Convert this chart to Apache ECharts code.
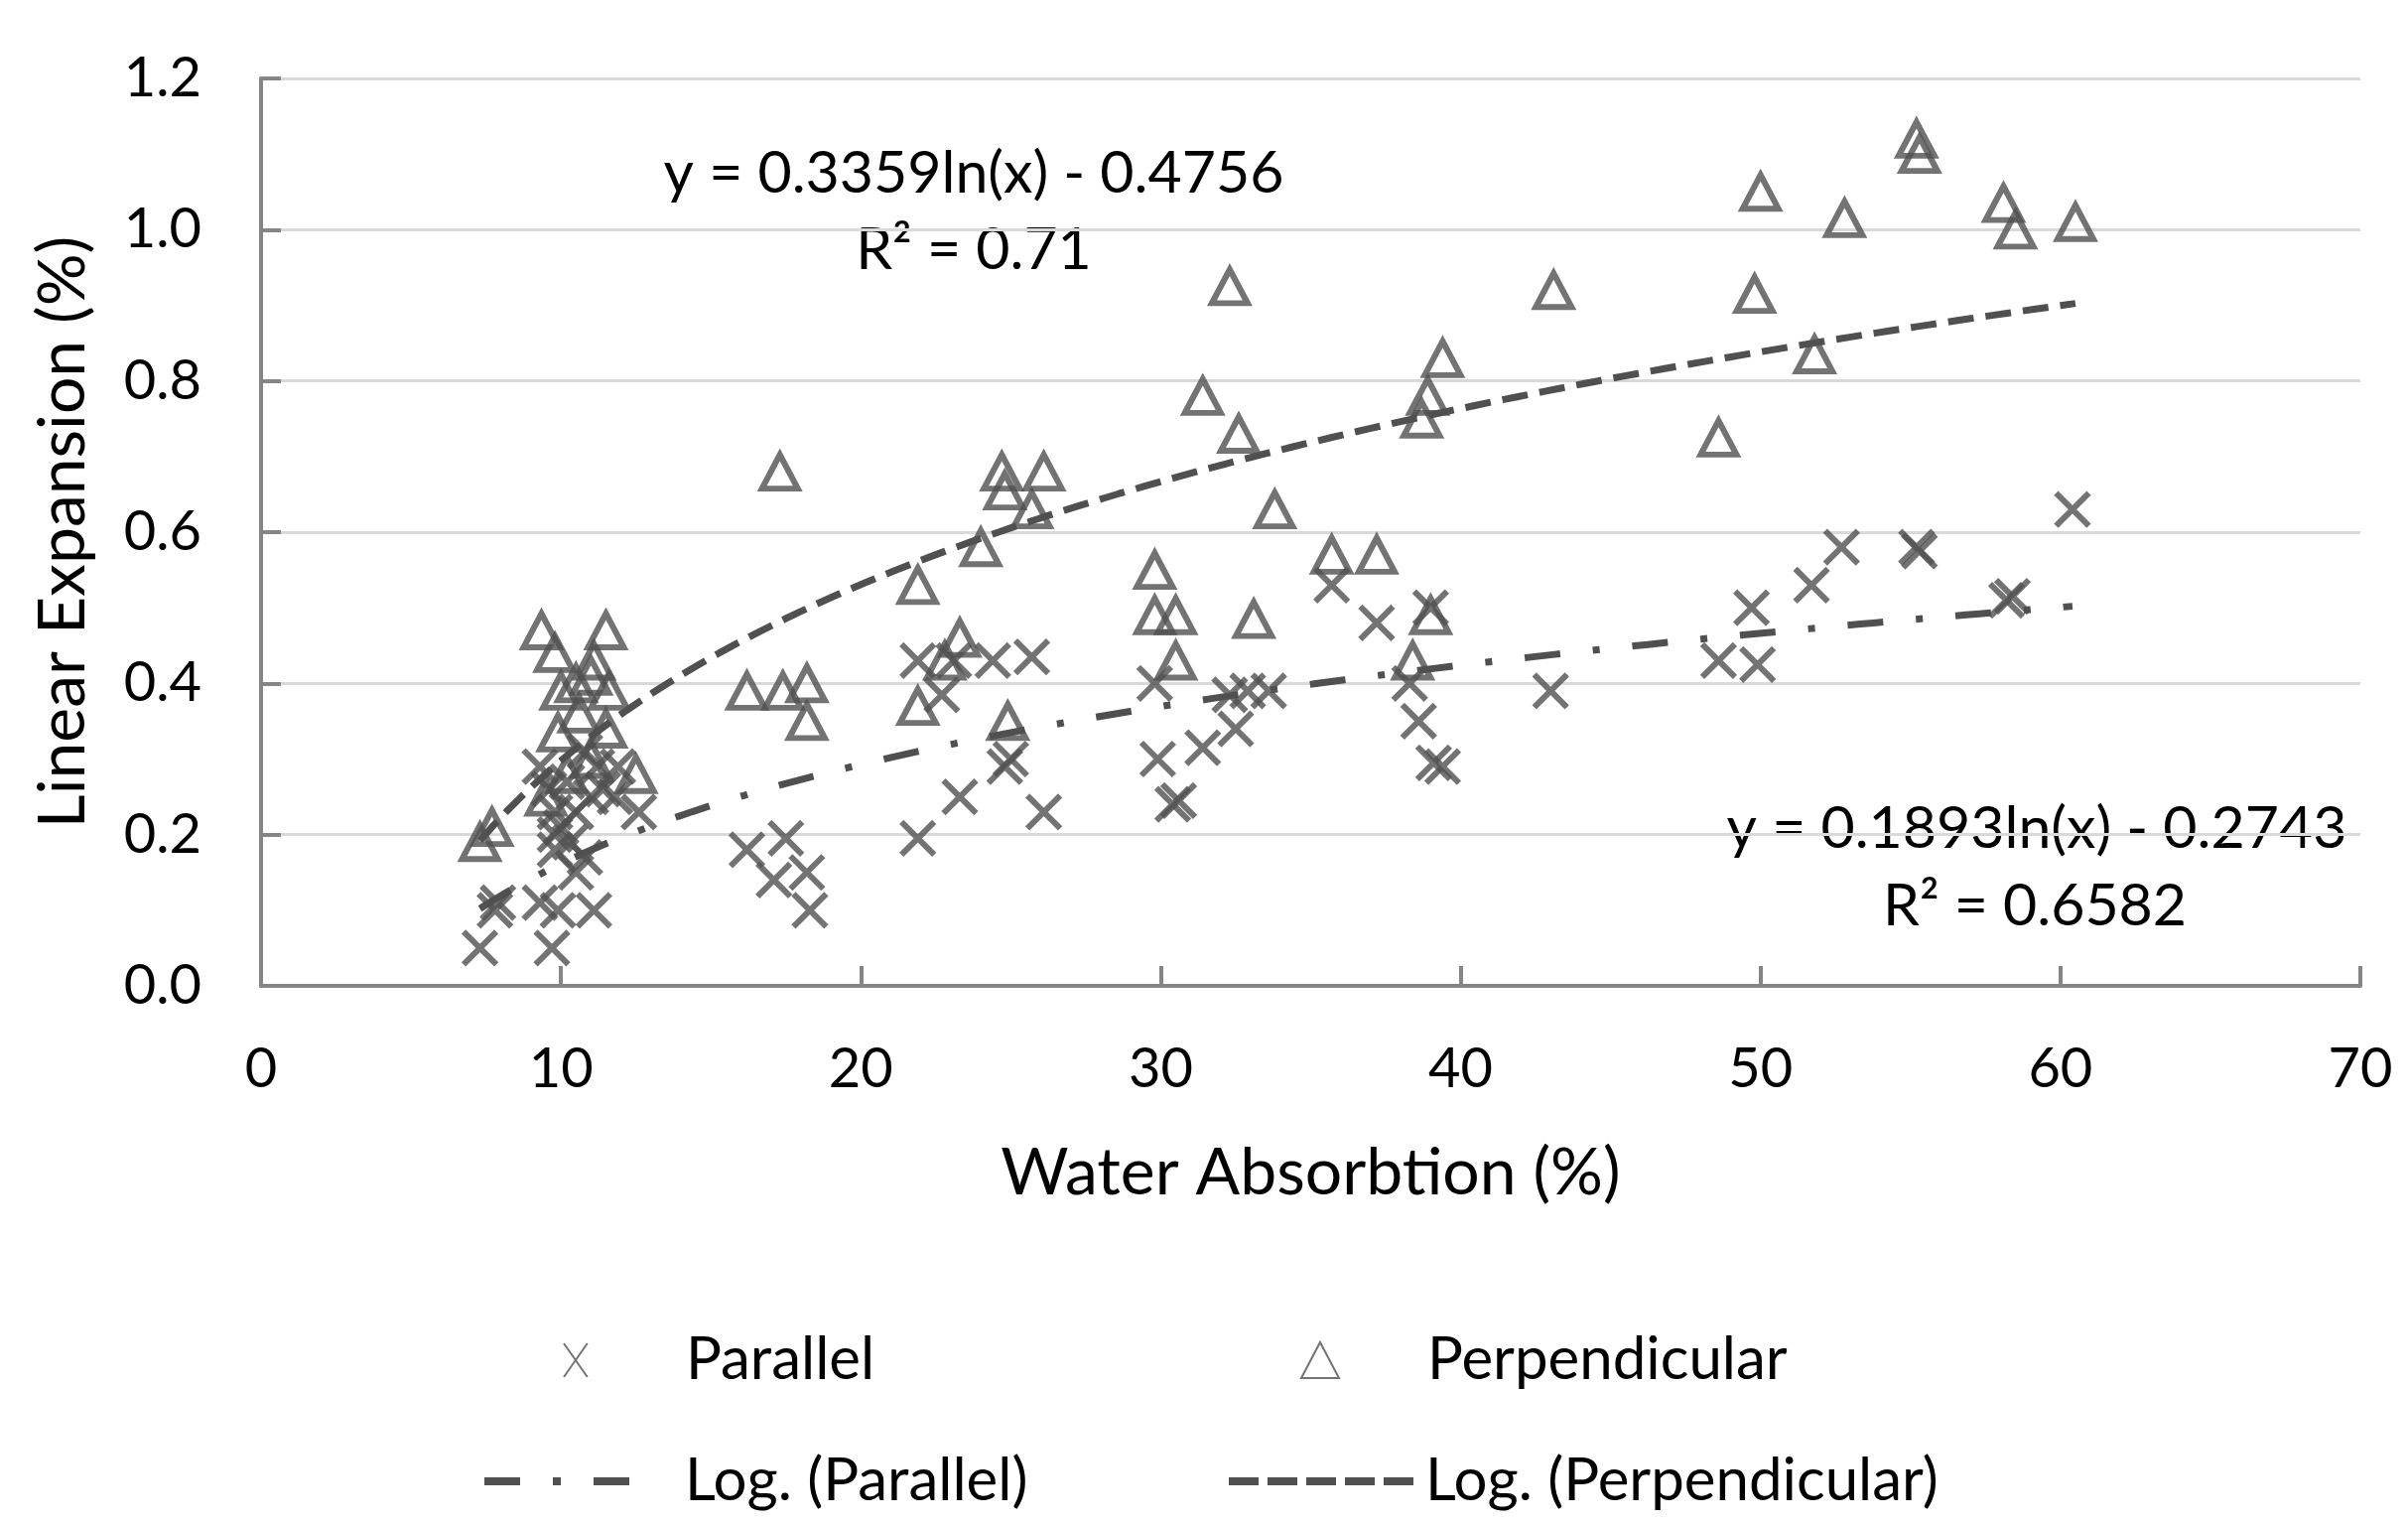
<!DOCTYPE html>
<html><head><meta charset="utf-8">
<script src="https://cdn.jsdelivr.net/npm/echarts@6/dist/echarts.min.js"></script>
<style>html,body{margin:0;padding:0;background:#fff}#c{width:2426px;height:1535px}</style>
</head><body><div id="c"></div>
<script>
// ---- data ----
const parallelX = [7.3,7.8,7.9,9.3,9.7,9.9,11.1,10.5,10.8,9.3,9.6,9.8,9.8,9.8,10.0,10.5,10.2,11.2,11.4,10.8,11.8,12.6,10.3,11.0,11.9,16.2,17.5,17.1,18.2,18.3,21.9,23.3,24.8,25.0,26.1,21.9,23.1,24.4,25.7,22.7,29.8,29.9,30.4,30.6,31.4,32.5,32.3,32.9,33.6,35.7,37.2,39.0,38.3,38.6,39.1,39.4,43.0,48.6,49.9,49.7,51.7,52.7,55.2,55.3,58.2,58.4,60.4];
const parallelY = [0.05,0.10,0.11,0.11,0.05,0.10,0.10,0.15,0.17,0.29,0.26,0.23,0.20,0.18,0.21,0.23,0.27,0.29,0.26,0.31,0.25,0.23,0.19,0.25,0.29,0.18,0.195,0.14,0.15,0.10,0.195,0.25,0.29,0.30,0.23,0.43,0.43,0.43,0.435,0.385,0.40,0.30,0.24,0.245,0.315,0.34,0.385,0.39,0.39,0.53,0.48,0.50,0.40,0.35,0.295,0.29,0.39,0.43,0.425,0.50,0.53,0.58,0.58,0.575,0.51,0.515,0.63];
const perpX = [7.3,7.7,9.35,11.5,9.8,11.1,10.0,10.5,11.0,11.6,9.9,11.5,12.5,9.5,10.2,11.0,10.6,16.2,17.4,18.2,18.2,17.3,21.9,24.0,24.7,24.8,26.1,25.7,23.3,22.8,21.9,24.9,29.8,29.8,30.5,30.5,33.1,31.4,32.6,33.8,32.3,35.7,37.2,39.4,38.9,38.7,39.0,38.4,43.1,48.6,49.8,50.0,51.8,52.8,55.2,55.3,58.1,58.5,60.5];
const perpY = [0.19,0.21,0.47,0.47,0.44,0.43,0.39,0.40,0.41,0.39,0.335,0.34,0.28,0.25,0.28,0.30,0.36,0.39,0.39,0.40,0.35,0.68,0.53,0.58,0.68,0.655,0.68,0.63,0.46,0.43,0.37,0.35,0.55,0.49,0.49,0.43,0.485,0.78,0.73,0.63,0.925,0.57,0.57,0.83,0.78,0.75,0.49,0.43,0.92,0.725,0.915,1.05,0.835,1.015,1.12,1.10,1.035,1.0,1.01];
// trendline coefficients as printed on the chart: y = a ln(x) + b
const fitParallel = [0.1893, -0.2743];
const fitPerp = [0.3359, -0.4756];
const eqParallel = ['y = 0.1893ln(x) - 0.2743', 'R\u00B2 = 0.6582'];
const eqPerp = ['y = 0.3359ln(x) - 0.4756', 'R\u00B2 = 0.71'];
const seriesNames = ['Parallel', 'Perpendicular', 'Log. (Parallel)', 'Log. (Perpendicular)'];
const xAxisName = 'Water Absorbtion (%)';
const yAxisName = 'Linear Expansion (%)';

// ---- build ----
const zip = (xs, ys) => xs.map((x, i) => [x, ys[i]]);
function trend(xs, c) {
  const lo = Math.min(...xs), hi = Math.max(...xs), n = 120, out = [];
  for (let i = 0; i <= n; i++) { const x = lo + (hi - lo) * i / n; out.push([x, c[0] * Math.log(x) + c[1]]); }
  return out;
}
const FONT = 'Lato';
const DARK = '#505050';
const xPath = 'path://M0,0L10,10M10,0L0,10';
const xIcon = 'path://M0,0L7,10M7,0L0,10';
const iconDashDot = 'path://M0,0h36v8h-36zM69,0h8v8h-8zM110,0h36v8h-36z';
const iconDash = 'path://M0,0h30v8h-30zM39,0h30v8h-30zM78,0h30v8h-30zM117,0h30v8h-30zM156,0h30v8h-30z';
const chart = echarts.init(document.getElementById('c'), null, {renderer: 'canvas'});
const LT = {fontFamily: FONT, fontSize: 60, color: '#000'};
const eqStyle = {fontFamily: FONT, fontSize: 59, fill: '#000', align: 'center', verticalAlign: 'middle'};
chart.setOption({
  animation: false,
  backgroundColor: '#fff',
  grid: {left: 263, right: 48, top: 79, bottom: 542, containLabel: false},
  xAxis: {type: 'value', min: 0, max: 70, interval: 10,
    name: xAxisName, nameLocation: 'middle', nameGap: 156,
    nameTextStyle: {fontFamily: FONT, fontSize: 66, color: '#000'},
    axisLine: {show: true, lineStyle: {color: '#868686', width: 4}},
    axisTick: {show: true, inside: true, length: 20, lineStyle: {color: '#868686', width: 4}},
    axisLabel: {fontFamily: FONT, fontSize: 56, color: '#000', margin: 56},
    splitLine: {show: false}},
  yAxis: {type: 'value', min: 0, max: 1.2, interval: 0.2,
    name: yAxisName, nameLocation: 'middle', nameGap: 166, nameRotate: 90,
    nameTextStyle: {fontFamily: FONT, fontSize: 66, color: '#000'},
    axisLine: {show: true, lineStyle: {color: '#868686', width: 4}},
    axisTick: {show: true, inside: true, length: 20, lineStyle: {color: '#868686', width: 4}},
    axisLabel: {fontFamily: FONT, fontSize: 56, color: '#000', margin: 60, formatter: v => v.toFixed(1)},
    splitLine: {show: true, lineStyle: {color: '#d9d9d9', width: 3}}},
  legend: [
    {selectedMode: false, data: [{name: seriesNames[0], icon: xIcon}], left: 562, top: 1335, itemWidth: 24, itemHeight: 34,
      textStyle: Object.assign({}, LT, {padding: [0, 0, 0, 94]})},
    {selectedMode: false, data: [seriesNames[1]], left: 1305, top: 1335, itemWidth: 38, itemHeight: 36,
      textStyle: Object.assign({}, LT, {padding: [0, 0, 0, 84]})},
    {selectedMode: false, data: [{name: seriesNames[2], icon: iconDashDot}], left: 483, top: 1457, itemWidth: 146, itemHeight: 8,
      textStyle: Object.assign({}, LT, {padding: [0, 0, 0, 51]})},
    {selectedMode: false, data: [{name: seriesNames[3], icon: iconDash}], left: 1233, top: 1457, itemWidth: 186, itemHeight: 8,
      textStyle: Object.assign({}, LT, {padding: [0, 0, 0, 7]})}
  ],
  series: [
    {name: seriesNames[0], type: 'scatter', data: zip(parallelX, parallelY), symbol: xPath, symbolSize: 33,
      itemStyle: {color: 'rgba(0,0,0,0)', borderColor: DARK, borderWidth: 6}, z: 3},
    {name: seriesNames[1], type: 'scatter', data: zip(perpX, perpY), symbol: 'triangle', symbolSize: [36, 34],
      itemStyle: {color: 'rgba(0,0,0,0)', borderColor: DARK, borderWidth: 6}, z: 3},
    {name: seriesNames[2], type: 'line', data: trend(parallelX, fitParallel), symbol: 'none', showSymbol: false,
      lineStyle: {color: DARK, width: 7, type: [36, 33, 7, 33], cap: 'butt'}, itemStyle: {color: DARK}, z: 4},
    {name: seriesNames[3], type: 'line', data: trend(perpX, fitPerp), symbol: 'none', showSymbol: false,
      lineStyle: {color: DARK, width: 7, type: [26, 12], cap: 'butt'}, itemStyle: {color: DARK}, z: 4}
  ],
  graphic: [
    {type: 'text', x: 981, y: 175, style: Object.assign({text: eqPerp[0]}, eqStyle)},
    {type: 'text', x: 981, y: 252, style: Object.assign({text: eqPerp[1]}, eqStyle)},
    {type: 'text', x: 2052, y: 835, style: Object.assign({text: eqParallel[0]}, eqStyle)},
    {type: 'text', x: 2050, y: 913, style: Object.assign({text: eqParallel[1]}, eqStyle)}
  ]
});
</script></body></html>
